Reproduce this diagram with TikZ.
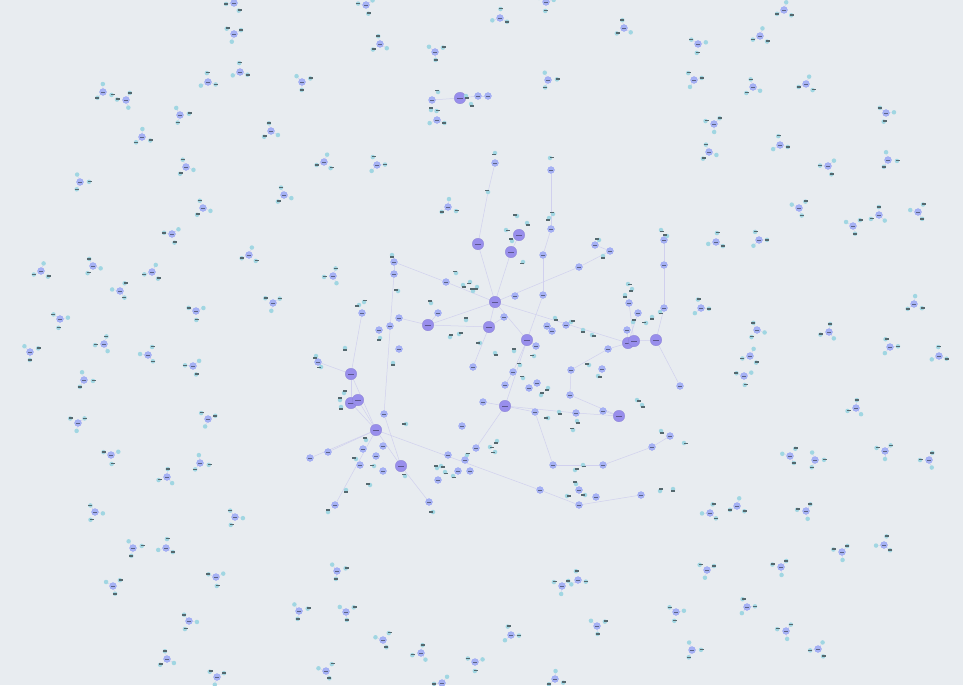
\documentclass[tikz,border=0pt]{standalone}
\usetikzlibrary{calc}
\definecolor{bgcol}{RGB}{232,236,240}
\definecolor{hubcol}{RGB}{152,142,236}
\definecolor{midcol}{RGB}{166,178,244}
\definecolor{leafcol}{RGB}{160,214,226}
\definecolor{tagcol}{RGB}{84,104,110}
\definecolor{linkcol}{RGB}{208,208,238}
\pgfdeclarelayer{back}
\pgfsetlayers{back,main}

\begin{document}
\begin{tikzpicture}[x=1pt,y=-1pt,
      hub/.style={circle,fill=hubcol,draw=hubcol!90!black,line width=0.3pt,minimum size=11.5pt,inner sep=0pt,
        path picture={\draw[hubcol!60!black,line width=0.35pt] ([xshift=-3pt]path picture bounding box.center) -- ([xshift=3pt]path picture bounding box.center);}},
      mid/.style={circle,fill=midcol,draw=midcol!90!blue,line width=0.2pt,minimum size=7pt,inner sep=0pt,
        path picture={\draw[midcol!55!black,line width=0.3pt] ([xshift=-2pt]path picture bounding box.center) -- ([xshift=2pt]path picture bounding box.center);}},
      leaf/.style={circle,fill=leafcol,minimum size=4.5pt,inner sep=0pt},
      tag/.style={rectangle,fill=tagcol,minimum width=4pt,minimum height=1.6pt,inner sep=0pt},
      link/.style={draw=linkcol,line width=0.5pt}]
  \begin{pgfonlayer}{back}
    \fill[bgcol] (0,0) rectangle (963,685);
  \end{pgfonlayer}
  \useasboundingbox (0,0) rectangle (963,685);

  % hubs of the big component
  \node[hub] (h1) at (460,98) {};
  \node[hub] (h2) at (478,244) {};
  \node[hub] (h3) at (519,235) {};
  \node[hub] (h4) at (511,252) {};
  \node[hub] (h5) at (495,302) {};
  \node[hub] (h6) at (428,325) {};
  \node[hub] (h7) at (489,327) {};
  \node[hub] (h8) at (527,340) {};
  \node[hub] (h9) at (628,343) {};
  \node[hub] (h10) at (634,341) {};
  \node[hub] (h11) at (656,340) {};
  \node[hub] (h12) at (351,374) {};
  \node[hub] (h13) at (351,403) {};
  \node[hub] (h14) at (358,400) {};
  \node[hub] (h15) at (376,430) {};
  \node[hub] (h16) at (505,406) {};
  \node[hub] (h17) at (619,416) {};
  \node[hub] (h18) at (401,466) {};

  % inner nodes
  \foreach \x/\y [count=\i] in {495/163,551/170,551/229,543/255,543/295,579/267,610/251,394/262,
      394/274,399/318,362/313,390/326,379/330,399/349,384/414,446/282,504/317,515/296,536/346,
      547/326,552/331,566/325,513/372,529/388,537/383,535/412,553/465,603/465,540/490,579/505,
      579/490,596/497,641/495,664/240,664/308,680/386,608/349,571/370,602/369,570/395,576/413,
      603/411,462/426,483/402,438/480,429/502,448/455,465/460,458/471,470/471,383/446,363/449,
      376/456,383/471,360/465,328/452,310/458,335/505,318/362,638/313,629/303,432/100,478/96,
      488/96,476/448,652/447,670/436,438/313,473/367,505/385,595/245,664/265,627/330}
    \node[mid] (m\i) at (\x,\y) {};

  \pgfmathsetseed{11}
  \foreach \x/\y [count=\i] in {488/192,550/158,495/153,512/241,506/230,517/216,527/223,523/262,
      549/218,553/214,456/273,463/285,470/282,473/291,477/287,431/303,450/337,459/334,466/320,
      480/343,495/353,514/351,520/365,523/378,534/356,555/318,571/322,583/330,592/335,598/376,
      589/365,625/295,633/322,646/323,652/317,660/312,661/230,667/236,632/289,637/400,642/405,
      577/421,573/430,548/418,559/412,490/447,497/441,495/452,467/455,441/466,445/472,453/476,
      437/468,374/466,370/485,366/440,356/459,340/400,344/393,341/407,316/356,321/367,345/348,
      392/255,398/291,380/338,393/363,346/490,328/512,405/476,433/512,406/424,599/240,603/256,
      583/465,575/470,576/484,585/495,567/496,660/491,673/489,661/431,684/443,541/395,548/388,
      466/96,471/104,438/92,431/110,359/305,364/302,628/284}
  {
    \pgfmathsetmacro\b{int(360*rnd)}
    \node[leaf] (c\i) at (\x,\y) {};
    \node[tag] (d\i) at ($(c\i)+(\b:2)$) {};
  }

  \begin{pgfonlayer}{back}
    \path[link]
      (h1) edge (m62) (h1) edge (m63) (m63) edge (m64)
      (m1) edge (c1) (c1) edge (h2)
      (m2) edge (m3) (m3) edge (m4) (m4) edge (m5) (m5) edge (h8)
      (h3) edge (h4) (h4) edge (h5) (h2) edge (h5)
      (h5) edge (h6) (h5) edge (h7) (h5) edge (h8) (h5) edge (m6) (m6) edge (m7) (m7) edge (m71)
      (h5) edge (h9) (h6) edge (h7) (h7) edge (m17) (h7) edge (m69)
      (h5) edge (m16) (m16) edge (m8) (h6) edge (m10) (h6) edge (m68)
      (h8) edge (h16) (h8) edge (m19) (h8) edge (m23) (m23) edge (m70)
      (h16) edge (m44) (h16) edge (m65) (h16) edge (m26) (m26) edge (m27) (m27) edge (m28)
      (m28) edge (m66) (m66) edge (m67) (h16) edge (m41) (m41) edge (h17) (h17) edge (m42) (h17) edge (m40)
      (h9) edge (h10) (h10) edge (h11) (h11) edge (m35) (m35) edge (m72) (m72) edge (m34) (h11) edge (m36)
      (h9) edge (m37) (m37) edge (m38) (m38) edge (m40) (h9) edge (m60) (h10) edge (m61) (h9) edge (m73)
      (h12) edge (m11) (h12) edge (h13) (h12) edge (h15) (h13) edge (h15) (h14) edge (h15) (h12) edge (m59)
      (h15) edge (h18) (h15) edge (m56) (h15) edge (m57) (h15) edge (m58)
      (h15) edge (m29) (m29) edge (m30) (m30) edge (m33)
      (m8) edge (m9) (m9) edge (m15) (m15) edge (h18) (h18) edge (m46);
  \end{pgfonlayer}

  % loose clusters round the edge
  \pgfmathsetseed{5}
  \foreach \x/\y [count=\i] in {234/3,234/34,240/72,208/82,366/5,380/44,435/52,437/120,500/18,546/2,
      624/28,698/44,760/36,784/10,103/92,126/100,142/137,180/115,271/131,302/82,548/80,694/80,
      753/87,806/84,886/113,714/124,709/152,780/145,828/166,888/160,186/167,324/162,377/165,
      284/195,448/207,203/208,80/182,799/208,879/215,918/212,853/226,172/234,249/255,93/266,
      41/271,152/272,120/291,333/276,273/303,196/311,60/319,104/344,148/355,30/352,716/242,
      759/240,701/308,757/330,829/332,890/347,939/356,193/366,84/380,744/376,750/356,78/423,
      111/455,208/419,167/477,200/463,856/408,885/451,929/460,790/456,815/460,710/513,737/506,
      806/511,842/552,884/545,95/512,133/548,166/548,235/517,216/577,113/586,189/621,167/659,
      217/677,299/611,337/571,346/612,383/640,421/653,475/662,511/635,562/586,578/580,597/626,
      676/612,692/650,707/570,747/607,781/567,786/631,818/649,442/683,555/679,326/671,914/304}
  {
    \pgfmathsetmacro\a{int(360*rnd)}
    \node[mid] (p\i) at (\x,\y) {};
    \node[leaf] (pa\i) at ($(p\i)+(\a:8)$) {};
    \node[tag] (ta\i) at (pa\i) {};
    \node[leaf] (pb\i) at ($(p\i)+(\a+135:8)$) {};
    \node[leaf] (pc\i) at ($(p\i)+(\a+245:9)$) {};
    \node[tag] (tc\i) at ($(pc\i)+(1,-0.5)$) {};
    \begin{pgfonlayer}{back}
      \path[link] (p\i) edge (pa\i) (p\i) edge (pb\i);
    \end{pgfonlayer}
  }
\end{tikzpicture}
\end{document}
